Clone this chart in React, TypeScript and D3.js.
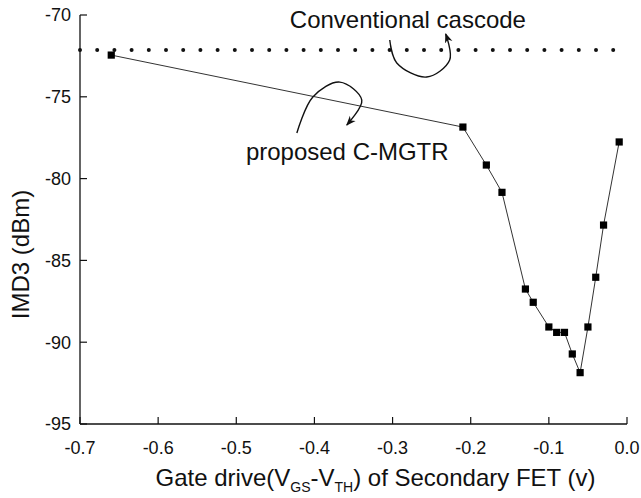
import { useMemo } from "react"
import * as d3 from "d3"

// C-MGTR sweep: gate drive of secondary FET (V) vs IMD3 (dBm)
const gateDrive = [-0.66, -0.21, -0.18, -0.16, -0.13, -0.12, -0.1, -0.09, -0.08, -0.07, -0.06, -0.05, -0.04, -0.03, -0.01]
const imd3 = [-72.45, -76.85, -79.17, -80.84, -86.75, -87.56, -89.07, -89.4, -89.4, -90.72, -91.86, -89.07, -86.03, -82.84, -77.76]

// conventional cascode reference level
const cascodeX = [-0.7, 0.0]
const cascodeY = [-72.14, -72.14]

const xTicks = [-0.7, -0.6, -0.5, -0.4, -0.3, -0.2, -0.1, 0.0]
const yTicks = [-70, -75, -80, -85, -90, -95]

// annotation arrows, in data units
const arrowCascode: [number, number][] = [[-0.3036, -71.53], [-0.2946, -72.93], [-0.2563, -73.79], [-0.2269, -72.75], [-0.232, -71.16]]
const arrowProposed: [number, number][] = [[-0.4225, -77.21], [-0.402, -75.01], [-0.3675, -74.1], [-0.3394, -75.2], [-0.3586, -76.72]]

export default function App() {
    const width = 641
    const height = 498
    const margin = { top: 15, right: 14, bottom: 74, left: 80 }
    const innerW = width - margin.left - margin.right
    const innerH = height - margin.top - margin.bottom
    const font = "'Liberation Sans', Arial, Helvetica, sans-serif"

    const x = useMemo(() => d3.scaleLinear().domain([-0.7, 0]).range([0, innerW]), [innerW])
    const y = useMemo(() => d3.scaleLinear().domain([-95, -70]).range([innerH, 0]), [innerH])

    const series = gateDrive.map((g, i) => ({ g, v: imd3[i] }))
    const linePath = d3.line<{ g: number; v: number }>().x((d) => x(d.g)).y((d) => y(d.v))(series) || ""

    const cascodePath =
        d3.line<number>().x((d) => x(d)).y((_, i) => y(cascodeY[i]))(cascodeX) || ""

    const curve = d3
        .line<[number, number]>()
        .x((d) => x(d[0]))
        .y((d) => y(d[1]))
        .curve(d3.curveCatmullRom.alpha(0.5))

    const tickLen = 7
    const ink = "#111"

    return (
        <svg
            width={width}
            height={height}
            style={{ position: "absolute", left: 0, top: 0, background: "#fff" }}
            fontFamily={font}
        >
            <defs>
                <marker id="ah" viewBox="0 0 10 10" refX="9" refY="5" markerWidth="7" markerHeight="7" orient="auto">
                    <path d="M0,1 L10,5 L0,9 L3,5 Z" fill={ink} />
                </marker>
            </defs>
            <g transform={`translate(${margin.left},${margin.top})`}>
                {/* axes */}
                <line x1={0} y1={0} x2={0} y2={innerH} stroke={ink} strokeWidth={1.3} />
                <line x1={0} y1={innerH} x2={innerW} y2={innerH} stroke={ink} strokeWidth={1.3} />
                {yTicks.map((t) => (
                    <g key={t} transform={`translate(0,${y(t)})`}>
                        <line x1={0} x2={tickLen} stroke={ink} strokeWidth={1.2} />
                        <text x={-9} dy="0.35em" textAnchor="end" fontSize={18} fill={ink}>
                            {t}
                        </text>
                    </g>
                ))}
                {xTicks.map((t) => (
                    <g key={t} transform={`translate(${x(t)},${innerH})`}>
                        <line y1={0} y2={-tickLen} stroke={ink} strokeWidth={1.2} />
                        <text y={30} textAnchor="middle" fontSize={18} fill={ink}>
                            {t === 0 ? "0.0" : t.toFixed(1)}
                        </text>
                    </g>
                ))}

                {/* conventional cascode dotted level */}
                <path
                    d={cascodePath}
                    fill="none"
                    stroke={ink}
                    strokeWidth={4}
                    strokeLinecap="round"
                    strokeDasharray="0 17.2"
                />

                {/* proposed C-MGTR */}
                <path d={linePath} fill="none" stroke="#333" strokeWidth={1} />
                {series.map((d, i) => (
                    <rect key={i} x={x(d.g) - 3.6} y={y(d.v) - 3.6} width={7.2} height={7.2} fill="#000" />
                ))}

                {/* annotations */}
                <path d={curve(arrowCascode) || ""} fill="none" stroke={ink} strokeWidth={1.4} markerEnd="url(#ah)" />
                <path d={curve(arrowProposed) || ""} fill="none" stroke={ink} strokeWidth={1.4} markerEnd="url(#ah)" />
                <text x={x(-0.4315)} y={y(-70.79)} fontSize={24} fill={ink}>
                    Conventional cascode
                </text>
                <text x={x(-0.4877)} y={y(-78.86)} fontSize={24} fill={ink}>
                    proposed C-MGTR
                </text>

                {/* axis titles */}
                <text
                    transform={`translate(${-51},${innerH / 2 + 35}) rotate(-90)`}
                    textAnchor="middle"
                    fontSize={24}
                    fill={ink}
                >
                    IMD3 (dBm)
                </text>
                <text x={innerW / 2 + 22} y={innerH + 62} textAnchor="middle" fontSize={24} fill={ink}>
                    Gate drive(V<tspan fontSize={14} dy={6}>GS</tspan>
                    <tspan dy={-6}>-V</tspan>
                    <tspan fontSize={14} dy={6}>TH</tspan>
                    <tspan dy={-6}>) of Secondary FET (v)</tspan>
                </text>
            </g>
        </svg>
    )
}
